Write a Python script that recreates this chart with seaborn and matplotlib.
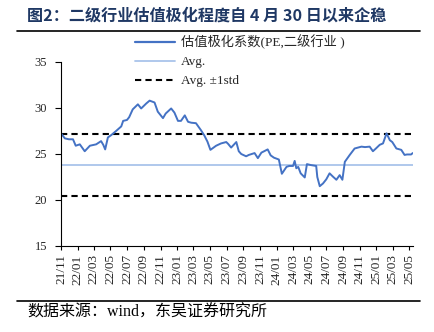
import matplotlib
matplotlib.use("Agg")
import matplotlib.pyplot as plt
from matplotlib.lines import Line2D
import seaborn as sns
import pandas as pd

dates = ["2021-11-01","2021-11-15","2021-11-30","2021-12-15","2021-12-25","2022-01-09","2022-01-27",
         "2022-02-15","2022-03-10","2022-03-28","2022-04-05","2022-04-12","2022-04-22","2022-05-04",
         "2022-05-22","2022-06-10","2022-06-17","2022-07-01","2022-07-09","2022-07-22","2022-08-10",
         "2022-08-22","2022-09-10","2022-09-22","2022-10-10","2022-10-22","2022-11-10","2022-11-20",
         "2022-12-10","2022-12-22","2023-01-04","2023-01-15","2023-01-29","2023-02-10","2023-02-22",
         "2023-03-11","2023-03-29","2023-04-10","2023-04-22","2023-05-03","2023-05-24","2023-06-11",
         "2023-06-30","2023-07-07","2023-07-18","2023-08-06","2023-08-15","2023-08-24","2023-09-11",
         "2023-09-21","2023-10-12","2023-10-24","2023-11-06","2023-11-16","2023-11-29","2023-12-10",
         "2023-12-22","2024-01-09","2024-01-20","2024-02-06","2024-02-16","2024-03-01","2024-03-07",
         "2024-03-13","2024-03-20","2024-03-29","2024-04-13","2024-04-21","2024-05-05","2024-05-25",
         "2024-05-29","2024-06-07","2024-06-19","2024-07-01","2024-07-13","2024-07-25","2024-08-07",
         "2024-08-19","2024-08-29","2024-09-07","2024-09-25","2024-10-13","2024-11-07","2024-11-20",
         "2024-12-07","2024-12-19","2024-12-30","2025-01-13","2025-01-25","2025-02-07","2025-02-19",
         "2025-02-28","2025-03-15","2025-04-02","2025-04-14","2025-04-23","2025-05-08","2025-05-14"]
values = [27.25,26.7,26.6,26.6,25.9,26.05,25.3,
          25.9,26.05,26.4,26.0,25.5,26.8,27.05,
          27.5,28.0,28.6,28.7,29.0,29.85,30.4,
          29.95,30.5,30.8,30.6,29.6,28.9,29.4,
          29.95,29.5,28.6,28.6,29.2,28.5,28.4,
          28.35,27.6,27.05,26.35,25.45,25.9,26.15,
          26.3,26.1,25.7,26.3,25.3,25.0,24.75,
          24.9,25.1,24.55,25.15,25.3,25.5,24.85,
          24.6,24.4,22.85,23.6,23.7,23.7,24.25,
          23.45,23.6,22.9,22.45,23.9,23.8,23.7,
          22.5,21.5,21.8,22.25,22.9,22.55,22.2,
          22.7,22.2,24.15,24.9,25.6,25.8,25.75,
          25.8,25.3,25.6,26.0,26.15,27.25,26.5,
          26.3,25.6,25.45,24.9,24.95,24.95,25.1]
avg_value = 23.8
std_value = 3.4
tick_months = pd.date_range("2021-11-01", "2025-05-01", freq="2MS")
title_text = "图2：二级行业估值极化程度自 4 月 30 日以来企稳"
source_text = "数据来源：wind，东吴证券研究所"
legend_labels = ["估值极化系数(PE,二级行业 )", "Avg.", "Avg. ±1std"]

df = pd.DataFrame({"date": pd.to_datetime(dates), "value": values})

sns.set_style("ticks")
plt.rcParams["font.family"] = ["Liberation Serif", "Noto Sans CJK SC", "DejaVu Sans"]

fig = plt.figure(figsize=(4.34, 3.32), dpi=100)
ax = fig.add_axes([61/434, 1-246/332, (413-61)/434, (246-62)/332])

main_color = "#4472C4"
avg_color = "#A9C4EB"
dash = (0, (3, 2))
sns.lineplot(data=df, x="date", y="value", ax=ax, color=main_color, linewidth=1.4)
ax.axhline(avg_value, color=avg_color, linewidth=1.3, zorder=1)
ax.axhline(avg_value + std_value, color="black", linewidth=1.5, linestyle=dash, zorder=1)
ax.axhline(avg_value - std_value, color="black", linewidth=1.5, linestyle=dash, zorder=1)

ax.set_xlim(pd.Timestamp("2021-11-01"), pd.Timestamp("2025-05-15"))
ax.set_ylim(15, 35)
ax.set_yticks([15, 20, 25, 30, 35])
ax.set_xticks(tick_months)
ax.set_xticklabels([d.strftime("%y/%m") for d in tick_months], rotation=90, fontsize=9.5)
ax.tick_params(axis="y", labelsize=9, length=4, width=0.8, color="black", pad=6)
ax.tick_params(axis="x", length=3, width=0.8, color="black", pad=3)
ax.set_xlabel("")
ax.set_ylabel("")
for s in ["top", "right"]:
    ax.spines[s].set_visible(False)
for s in ["left", "bottom"]:
    ax.spines[s].set_color("black")
    ax.spines[s].set_linewidth(0.8)

handles = [Line2D([], [], color=main_color, linewidth=1.6),
           Line2D([], [], color=avg_color, linewidth=1.3),
           Line2D([], [], color="black", linewidth=1.5, linestyle=dash)]
fig.legend(handles, legend_labels, loc="upper left", bbox_to_anchor=(135/434, 1-35/332),
           frameon=False, fontsize=9.5, handlelength=3.0, labelspacing=0.5, handletextpad=0.45,
           borderaxespad=0, borderpad=0)

fig.text(27/434, 1-16/332, title_text, fontsize=11.6, fontweight="bold", color="#1F3864",
         va="center", ha="left", family=["Noto Sans CJK SC", "DejaVu Sans"])
fig.add_artist(Line2D([17/434, 420/434], [1-31/332, 1-31/332], color="black", linewidth=1.2))
fig.add_artist(Line2D([17/434, 420/434], [1-301/332, 1-301/332], color="black", linewidth=1.2))
fig.text(27/434, 1-313/332, source_text, fontsize=11.5, color="black", va="center", ha="left")

fig.savefig("out.png", dpi=100)
